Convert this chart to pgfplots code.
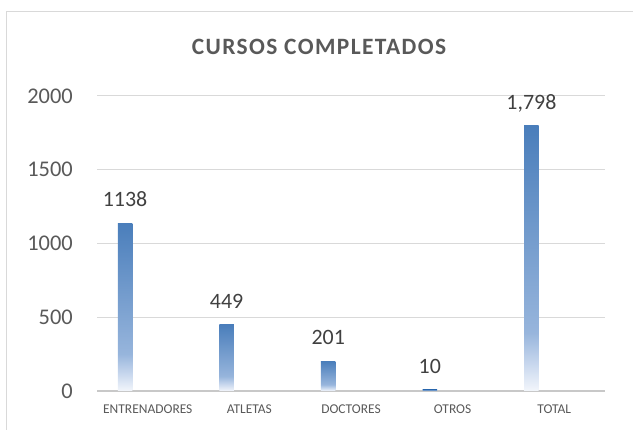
\documentclass[border=0pt]{standalone}
\usepackage{fontspec}
\setmainfont{Carlito}
\newfontfamily\titlefont[LetterSpace=6]{Carlito}
\usepackage{xcolor}
\usepackage{pgfplots}
\pgfplotsset{compat=1.18}

\definecolor{txt}{HTML}{595959}
\definecolor{vtxt}{HTML}{404040}
\definecolor{gridc}{HTML}{D9D9D9}
\definecolor{zeroc}{HTML}{C8C8C8}
\definecolor{barT}{HTML}{4A7EBB}
\definecolor{barM}{HTML}{97B5DC}
\definecolor{barL}{HTML}{C9D8EE}
\definecolor{barB}{HTML}{F3F6FB}

% axis shading: the bar spans 25bp..75bp of the 100bp shading
\pgfdeclareverticalshading{barshade}{100bp}{%
  color(0bp)=(barB); color(25bp)=(barB); color(30bp)=(barL);
  color(36bp)=(barM); color(75bp)=(barT); color(100bp)=(barT)}

\pgfplotsset{
  onebar/.style={ybar, bar width=14.5bp, bar shift=0pt, draw=none, shade, shading=barshade,
    nodes near coords, point meta=explicit symbolic,
    every node near coord/.append style={anchor=base, yshift=16.5bp, inner sep=0pt,
        font=\fontsize{22}{26}\selectfont, text=vtxt}},
}

\begin{document}
\begin{tikzpicture}
\begin{axis}[
    at={(97bp,39bp)}, anchor=south west,
    scale only axis,
    width=508bp, height=295bp,
    xmin=-0.5, xmax=4.5,
    ymin=0, ymax=2000,
    axis line style={draw=none},
    major tick length=0pt,
    xtick={0,1,2,3,4},
    xticklabels={ENTRENADORES,ATLETAS,DOCTORES,OTROS,TOTAL},
    ytick={0,500,1000,1500,2000},
    yticklabels={0,500,1000,1500,2000},
    xticklabel style={font=\fontsize{13.5}{15}\selectfont, text=txt, anchor=base, yshift=-22.3bp, inner sep=0pt},
    yticklabel style={font=\fontsize{22.5}{26}\selectfont, text=txt, anchor=east, inner sep=0pt, xshift=-24bp},
    ymajorgrids=true,
    grid style={gridc, line width=1bp},
    extra y ticks={0},
    extra y tick labels={},
    extra y tick style={grid style={zeroc, line width=1.2bp}},
    clip=false,
]
% one plot per bar so that each bar gets its own gradient
\addplot[onebar] coordinates {(-0.224,1138) [1138]};
\addplot[onebar] coordinates {(0.776,449) [449]};
\addplot[onebar] coordinates {(1.776,201) [201]};
\addplot[onebar] coordinates {(2.776,10) [10]};
\addplot[onebar] coordinates {(3.776,1798) [{1,798}]};
\end{axis}
\node[font=\titlefont\bfseries\fontsize{23.5}{27}\selectfont, text=txt, anchor=base]
    at (319bp,375bp) {CURSOS COMPLETADOS};
\draw[gridc, line width=1bp] (6.5bp,-20bp) rectangle (660bp,418bp);
\pgfresetboundingbox
\path[use as bounding box] (0,0) rectangle (633bp,430bp);
\end{tikzpicture}
\end{document}
